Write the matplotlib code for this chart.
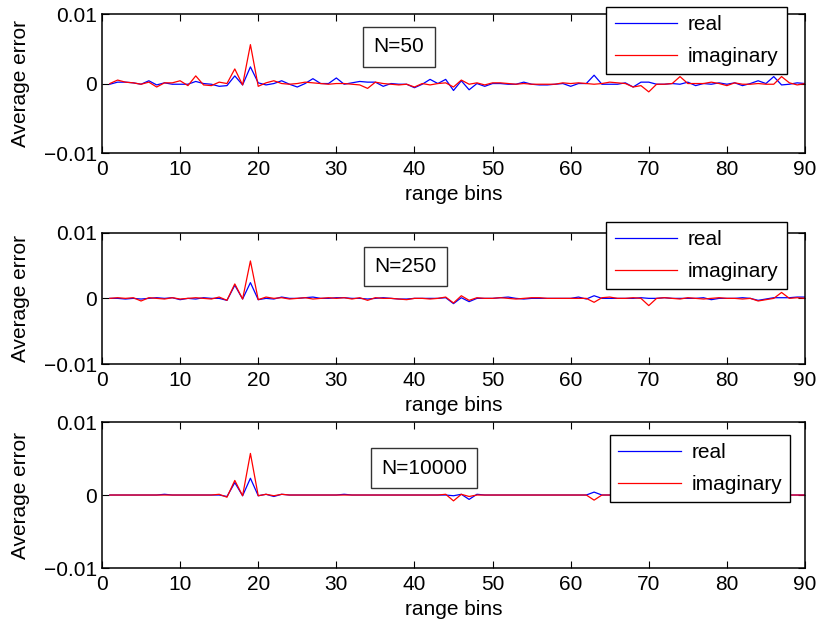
import numpy as np
import matplotlib
matplotlib.use('Agg')
from matplotlib import pyplot as plt

plt.rcParams['font.family'] = ['Liberation Sans', 'DejaVu Sans']

# range bins 1..90
bins = list(range(1, 91))

# N=50
real_50 = [-0.0001, 0.0002, 0.0002, 0.0001, -0.0001, 0.0004, -0.0002, 0.0001, -0.0001, -0.0001,
           -0.0001, 0.0003, 0.0, -0.0001, -0.0004, -0.0003, 0.0011, -0.0002, 0.0024, 0.0001,
           -0.0002, 0.0, 0.0004, -0.0001, -0.0005, 0.0, 0.0007, 0.0, 0.0, 0.0008,
           -0.0001, 0.0001, 0.0003, 0.0002, 0.0002, -0.0004, 0.0, -0.0001, -0.0001, -0.0006,
           -0.0001, 0.0006, 0.0, 0.0006, -0.0010, 0.0004, -0.0009, 0.0, -0.0004, 0.0,
           0.0, -0.0001, -0.0001, 0.0002, -0.0001, -0.0002, -0.0002, -0.0001, 0.0, -0.0004,
           0.0, 0.0, 0.0012, -0.0001, -0.0001, -0.0001, 0.0001, -0.0005, 0.0002, 0.0002,
           -0.0001, -0.0001, 0.0, -0.0001, 0.0002, -0.0003, 0.0, -0.0001, 0.0001, -0.0001,
           0.0001, -0.0003, 0.0, 0.0004, 0.0, 0.0010, -0.0002, -0.0001, 0.0001, 0.0]
imag_50 = [0.0, 0.0005, 0.0002, 0.0001, -0.0001, 0.0002, -0.0005, 0.0001, 0.0001, 0.0004,
           -0.0003, 0.0011, -0.0002, -0.0003, 0.0002, 0.0, 0.0021, -0.0002, 0.0056, -0.0004,
           0.0001, 0.0004, 0.0, -0.0001, 0.0, 0.0002, 0.0001, 0.0, -0.0001, 0.0,
           0.0, -0.0001, -0.0002, -0.0007, 0.0002, 0.0, -0.0001, -0.0002, -0.0001, -0.0005,
           0.0, -0.0002, 0.0, 0.0001, -0.0005, 0.0005, -0.0001, 0.0001, -0.0002, 0.0001,
           0.0001, 0.0, -0.0001, 0.0, -0.0001, -0.0001, -0.0001, -0.0001, 0.0001, 0.0,
           0.0001, 0.0, -0.0001, 0.0, 0.0002, 0.0001, 0.0, -0.0005, -0.0003, -0.0012,
           -0.0001, -0.0001, 0.0, 0.0010, 0.0, 0.0, 0.0, 0.0002, 0.0, -0.0003,
           0.0001, -0.0001, -0.0001, 0.0, -0.0001, -0.0001, 0.0010, 0.0001, -0.0002, 0.0]

# N=250
real_250 = [0.0, 0.0, -0.0001, 0.0, -0.0001, 0.0, 0.0001, 0.0, 0.0001, -0.0002,
            0.0, -0.0001, 0.0001, 0.0, 0.0, -0.0003, 0.0020, -0.0001, 0.0024, -0.0002,
            0.0, -0.0001, 0.0002, 0.0, 0.0, 0.0001, 0.0002, 0.0, 0.0, 0.0001,
            0.0001, 0.0, 0.0, -0.0001, 0.0, 0.0001, 0.0, -0.0001, -0.0001, 0.0,
            0.0, 0.0, 0.0, 0.0001, -0.0008, 0.0001, -0.0005, 0.0, 0.0, 0.0,
            0.0001, 0.0002, 0.0, -0.0001, 0.0, 0.0, 0.0, 0.0, 0.0, 0.0,
            0.0002, -0.0001, 0.0004, 0.0, 0.0, 0.0, 0.0, 0.0, 0.0001, 0.0,
            0.0, 0.0001, 0.0, 0.0, 0.0, 0.0, 0.0001, -0.0002, 0.0, 0.0,
            0.0, 0.0001, 0.0, -0.0003, -0.0001, 0.0001, 0.0001, 0.0001, 0.0002, 0.0002]
imag_250 = [0.0, 0.0001, 0.0, 0.0001, -0.0004, 0.0001, 0.0, -0.0001, 0.0001, -0.0001,
            0.0, 0.0001, 0.0, -0.0001, 0.0002, -0.0003, 0.0022, -0.0001, 0.0057, -0.0002,
            0.0002, 0.0, 0.0001, -0.0001, 0.0, 0.0001, -0.0001, 0.0, 0.0001, 0.0,
            0.0001, -0.0001, 0.0001, -0.0003, 0.0001, 0.0, 0.0, -0.0001, -0.0002, 0.0,
            0.0, -0.0001, 0.0, 0.0002, -0.0007, 0.0004, -0.0003, 0.0001, 0.0, 0.0,
            0.0001, 0.0, -0.0001, 0.0, 0.0001, 0.0001, 0.0, 0.0, 0.0, 0.0,
            0.0, 0.0, -0.0006, 0.0001, 0.0002, 0.0, 0.0, 0.0001, 0.0, -0.0011,
            0.0, 0.0001, 0.0, -0.0001, 0.0001, 0.0, -0.0001, 0.0, 0.0001, 0.0,
            0.0, -0.0001, 0.0, -0.0004, -0.0002, 0.0, 0.0009, 0.0, 0.0001, 0.0]

# N=10000
real_10000 = [0.0, 0.0, 0.0, 0.0, 0.0, 0.0, 0.0, 0.0001, 0.0, 0.0,
              0.0, 0.0, 0.0, 0.0, 0.0, -0.0002, 0.0017, -0.0001, 0.0023, -0.0001,
              0.0001, -0.0002, 0.0001, 0.0, 0.0, 0.0, 0.0, 0.0, 0.0, 0.0,
              0.0001, 0.0, 0.0, 0.0, 0.0, 0.0, 0.0, 0.0, 0.0, 0.0,
              0.0, 0.0, 0.0, 0.0, -0.0001, 0.0001, -0.0006, 0.0001, 0.0, 0.0,
              0.0, 0.0, 0.0, 0.0, 0.0, 0.0, 0.0, 0.0, 0.0, 0.0,
              0.0, 0.0, 0.0004, 0.0, 0.0, 0.0, 0.0, 0.0, 0.0, 0.0,
              0.0, 0.0, 0.0, 0.0, 0.0, 0.0, 0.0, 0.0, 0.0, 0.0,
              0.0, 0.0, 0.0, 0.0, 0.0, 0.0, 0.0, 0.0, 0.0, 0.0]
imag_10000 = [0.0, 0.0, 0.0, 0.0, 0.0, 0.0, 0.0, 0.0, 0.0, 0.0,
              0.0, 0.0, 0.0, 0.0, 0.0001, -0.0003, 0.0020, -0.0001, 0.0057, -0.0001,
              0.0001, -0.0001, 0.0001, 0.0, 0.0, 0.0, 0.0, 0.0, 0.0, 0.0,
              0.0, 0.0, 0.0, 0.0, 0.0, 0.0, 0.0, 0.0, 0.0, 0.0,
              0.0, 0.0, 0.0, 0.0001, -0.0008, 0.0001, -0.0002, 0.0, 0.0, 0.0,
              0.0, 0.0, 0.0, 0.0, 0.0, 0.0, 0.0, 0.0, 0.0, 0.0,
              0.0, 0.0, -0.0007, 0.0, 0.0, 0.0, 0.0, 0.0, 0.0, 0.0,
              0.0, 0.0, 0.0, 0.0, 0.0, 0.0, 0.0, 0.0, 0.0, 0.0,
              0.0, 0.0, 0.0, 0.0, 0.0, 0.0, 0.0, 0.0, 0.0, 0.0]

panels = [("N=50", real_50, imag_50),
          ("N=250", real_250, imag_250),
          ("N=10000", real_10000, imag_10000)]

# axes rectangles [left, bottom, width, height] and box / legend placement
rects = [[0.1247, 0.7571, 0.8594, 0.2206],
         [0.1247, 0.4222, 0.8594, 0.2084],
         [0.1247, 0.0984, 0.8594, 0.2317]]
text_pos = [(0.4225, 0.763), (0.432, 0.743), (0.458, 0.685)]
leg_anchor = [(0.974, 1.05), (0.974, 1.081), (0.979, 0.911)]

fs = 15
fig = plt.figure(figsize=(8.18, 6.30), dpi=100)

for i, (name, re, im) in enumerate(panels):
    ax = fig.add_axes(rects[i])
    ax.plot(bins, re, color=(0, 0, 1), lw=0.9, label='real')
    ax.plot(bins, im, color=(1, 0, 0), lw=0.9, label='imaginary')
    ax.set_xlim(0, 90)
    ax.set_ylim(-0.01, 0.01)
    ax.set_xticks(range(0, 91, 10))
    ax.set_yticks([-0.01, 0, 0.01])
    ax.set_yticklabels(['\u22120.01', '0', '0.01'])
    ax.tick_params(direction='in', top=True, right=True, labelsize=fs, length=5, width=0.8)
    ax.tick_params(axis='x', pad=5)
    for sp in ax.spines.values():
        sp.set_linewidth(1.1)
    ax.set_xlabel('range bins', fontsize=fs, labelpad=4)
    ax.set_ylabel('Average error', fontsize=fs, labelpad=10)
    ax.text(text_pos[i][0], text_pos[i][1], name, transform=ax.transAxes,
            fontsize=fs, ha='center', va='center',
            bbox=dict(boxstyle='square,pad=0.5', fc='white', ec='#333333', lw=1.0))
    leg = ax.legend(loc='upper right', bbox_to_anchor=leg_anchor[i], fontsize=fs,
                    fancybox=False, edgecolor='black', framealpha=1,
                    handlelength=3.0, labelspacing=0.6, borderpad=0.4,
                    handletextpad=0.5, borderaxespad=0.0)
    leg.get_frame().set_linewidth(1.0)

fig.savefig('out.png', dpi=100)
